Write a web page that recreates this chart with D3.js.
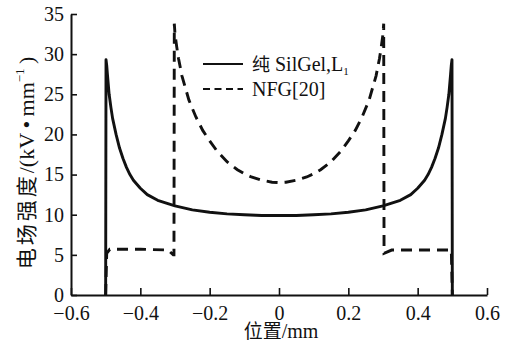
<!DOCTYPE html>
<html><head><meta charset="utf-8">
<script src="https://cdn.jsdelivr.net/npm/d3@7"></script>
<style>
html,body{margin:0;padding:0;background:#fff;}
svg{display:block;}
</style></head>
<body>
<svg id="chart" width="510" height="350"></svg>
<script>
const xTicks = [-0.6, -0.4, -0.2, 0, 0.2, 0.4, 0.6];
const yTicks = [0, 5, 10, 15, 20, 25, 30, 35];
const seriesNames = ["纯 SilGel,L", "NFG[20]"];

const silgelX = [-0.5, -0.499, -0.497, -0.495, -0.49, -0.485, -0.48, -0.47, -0.46, -0.45, -0.44, -0.43, -0.42, -0.40, -0.38, -0.35, -0.30, -0.25, -0.20, -0.15, -0.10, -0.05, 0, 0.05, 0.10, 0.15, 0.20, 0.25, 0.30, 0.35, 0.38, 0.40, 0.42, 0.43, 0.44, 0.45, 0.46, 0.47, 0.48, 0.485, 0.49, 0.495, 0.497, 0.499, 0.5];
const silgelY = [0, 29.3, 28.6, 27.5, 25.0, 23.4, 22.0, 20.0, 18.3, 17.0, 15.9, 15.0, 14.3, 13.3, 12.5, 11.8, 11.1, 10.6, 10.3, 10.1, 10.0, 9.9, 9.9, 9.9, 10.0, 10.1, 10.3, 10.6, 11.1, 11.8, 12.5, 13.3, 14.3, 15.0, 15.9, 17.0, 18.3, 20.0, 22.0, 23.4, 25.0, 27.5, 28.6, 29.3, 0];

const nfgX = [-0.5, -0.497, -0.488, -0.40, -0.32, -0.305, -0.303, -0.302, -0.300, -0.295, -0.29, -0.28, -0.27, -0.26, -0.24, -0.22, -0.20, -0.18, -0.15, -0.12, -0.10, -0.08, -0.05, -0.02, 0, 0.02, 0.05, 0.08, 0.10, 0.12, 0.15, 0.18, 0.20, 0.22, 0.24, 0.26, 0.27, 0.28, 0.29, 0.295, 0.300, 0.302, 0.303, 0.325, 0.40, 0.488, 0.497, 0.5];
const nfgY = [0, 5.2, 5.7, 5.7, 5.6, 5.0, 5.0, 33.8, 32.5, 30.9, 29.5, 27.3, 25.8, 24.3, 22.2, 20.5, 19.2, 18.0, 16.6, 15.6, 15.1, 14.7, 14.3, 14.05, 14.0, 14.05, 14.3, 14.7, 15.1, 15.6, 16.6, 18.0, 19.2, 20.5, 22.2, 24.3, 25.8, 27.3, 29.5, 30.9, 32.5, 33.8, 5.2, 5.6, 5.6, 5.6, 5.6, 0];

const ink = "#111";
const serif = "'Liberation Serif','Times New Roman',serif";
const cjk = "'Noto Sans CJK SC','Noto Sans',sans-serif";

const svg = d3.select("#chart");
const x = d3.scaleLinear().domain([-0.6, 0.6]).range([71, 487]);
const y = d3.scaleLinear().domain([0, 35]).range([295, 14]);

// axes
const xAxis = d3.axisBottom(x).tickValues(xTicks).tickSize(-7).tickSizeOuter(0).tickPadding(11)
  .tickFormat(d => d === 0 ? "0" : d3.format(".1f")(d).replace("-", "\u2212"));
const gx = svg.append("g").attr("transform", `translate(0,${y(0)})`).call(xAxis);
const yAxis = d3.axisLeft(y).tickValues(yTicks).tickSize(-6).tickSizeOuter(0).tickPadding(7);
const gy = svg.append("g").attr("transform", `translate(${x(-0.6)},0)`).call(yAxis);
[gx, gy].forEach(g => {
  g.select(".domain").attr("stroke", ink).attr("stroke-width", 2);
  g.selectAll(".tick line").attr("stroke", ink).attr("stroke-width", 1.6);
  g.selectAll(".tick text").attr("fill", ink).style("font-family", serif).style("font-size", "20px");
});

// lines
const line = d3.line().x(d => x(d[0])).y(d => y(d[1]));
svg.append("path").datum(silgelX.map((v, i) => [v, silgelY[i]]))
  .attr("d", line).attr("fill", "none").attr("stroke", ink).attr("stroke-width", 2.9)
  .attr("stroke-linejoin", "round");
svg.append("path").datum(nfgX.map((v, i) => [v, nfgY[i]]))
  .attr("d", line).attr("fill", "none").attr("stroke", ink).attr("stroke-width", 2.9)
  .attr("stroke-dasharray", "11,7");

// legend
const lg = svg.append("g");
lg.append("line").attr("x1", 203).attr("x2", 243).attr("y1", 64).attr("y2", 64)
  .attr("stroke", ink).attr("stroke-width", 1.8);
lg.append("line").attr("x1", 203).attr("x2", 243).attr("y1", 89).attr("y2", 89)
  .attr("stroke", ink).attr("stroke-width", 1.8).attr("stroke-dasharray", "7,4.5");
const t1 = lg.append("text").attr("x", 252).attr("y", 71).attr("fill", ink)
  .style("font-family", serif).style("font-size", "20px");
t1.append("tspan").style("font-family", cjk).style("font-size", "18px").text("纯");
t1.append("tspan").text(seriesNames[0].slice(1));
t1.append("tspan").style("font-size", "11px").attr("dy", 4).text("1");
lg.append("text").attr("x", 252).attr("y", 96).attr("fill", ink)
  .style("font-family", serif).style("font-size", "20px").text(seriesNames[1]);

// axis titles
const xt = svg.append("text").attr("x", 281).attr("y", 338).attr("text-anchor", "middle").attr("fill", ink)
  .style("font-family", serif).style("font-size", "20px");
xt.append("tspan").style("font-family", cjk).style("font-size", "19px").text("位置");
xt.append("tspan").text("/mm");

const yt = svg.append("text").attr("transform", "translate(34,163) rotate(-90)")
  .attr("text-anchor", "middle").attr("fill", ink)
  .style("font-family", serif).style("font-size", "22px");
yt.append("tspan").style("font-family", cjk).style("font-size", "21px").style("letter-spacing", "3px").text("电场强度");
yt.append("tspan").text("/(kV\u2009•\u2009mm");
yt.append("tspan").style("font-size", "13px").attr("dy", -10).text("−1");
yt.append("tspan").attr("dy", 10).text("\u2009)");
</script>
</body></html>
